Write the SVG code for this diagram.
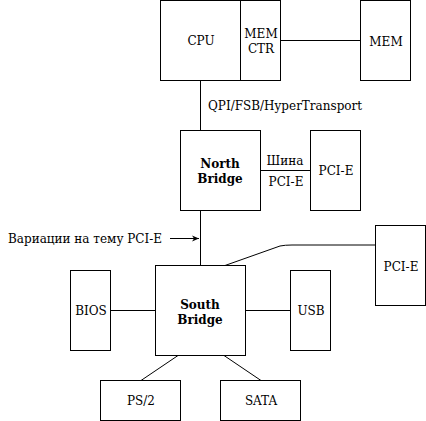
<svg xmlns="http://www.w3.org/2000/svg" width="426" height="421" viewBox="0 0 426 421">
<defs>
<style>
rect{fill:#fff;stroke:#000;stroke-width:1}
.c{fill:none;stroke:#000;stroke-width:1}
text{font-family:"DejaVu Serif",serif;font-size:12px;fill:#000;text-anchor:middle}
.b{font-weight:bold}
.s{text-anchor:start}
</style>
<marker id="ah" markerWidth="8" markerHeight="8" refX="7" refY="4" orient="auto" markerUnits="userSpaceOnUse"><path d="M0,1 L7,4 L0,7 L2,4 Z" fill="#000"/></marker>
</defs>
<g id="connectors">
<path class="c" d="M280.5,40.5 H360.5"/>
<path class="c" d="M200.5,80.5 V130.5"/>
<path class="c" d="M260.5,170.5 H310.5"/>
<path class="c" d="M200.5,210.5 V265.5"/>
<path class="c" d="M170,238.5 H199" marker-end="url(#ah)"/>
<path class="c" d="M225,265.5 L280,246 Q285,245 292,245 H375.5"/>
<path class="c" d="M110.5,310.5 H155.5"/>
<path class="c" d="M245.5,310.5 H290.5"/>
<path class="c" d="M178,355.5 L141,380.5"/>
<path class="c" d="M224,355.5 L261,380.5"/>
</g>
<g id="cpu"><rect x="160.5" y="0.5" width="80" height="80"/><text x="201" y="45">CPU</text></g>
<g id="memctr"><rect x="240.5" y="0.5" width="40" height="80"/><text x="261" y="38">MEM</text><text x="261" y="53">CTR</text></g>
<g id="mem"><rect x="360.5" y="0.5" width="50" height="80"/><text x="386" y="46">MEM</text></g>
<text class="s" x="208" y="110">QPI/FSB/HyperTransport</text>
<g id="northbridge"><rect x="180.5" y="130.5" width="80" height="80"/><text class="b" x="220" y="168">North</text><text class="b" x="220" y="183">Bridge</text></g>
<text x="285" y="165">Шина</text>
<text x="286" y="186">PCI-E</text>
<g id="pcie1"><rect x="310.5" y="130.5" width="50" height="80"/><text x="336" y="175">PCI-E</text></g>
<text class="s" x="8" y="243">Вариации на тему PCI-E</text>
<g id="pcie2"><rect x="375.5" y="225.5" width="50" height="80"/><text x="401" y="271">PCI-E</text></g>
<g id="southbridge"><rect x="155.5" y="265.5" width="90" height="90"/><text class="b" x="200" y="309">South</text><text class="b" x="200" y="324">Bridge</text></g>
<g id="bios"><rect x="70.5" y="270.5" width="40" height="80"/><text x="91" y="315">BIOS</text></g>
<g id="usb"><rect x="290.5" y="270.5" width="40" height="80"/><text x="311" y="315">USB</text></g>
<g id="ps2"><rect x="100.5" y="380.5" width="80" height="40"/><text x="141" y="405">PS/2</text></g>
<g id="sata"><rect x="220.5" y="380.5" width="80" height="40"/><text x="261" y="405">SATA</text></g>
</svg>
